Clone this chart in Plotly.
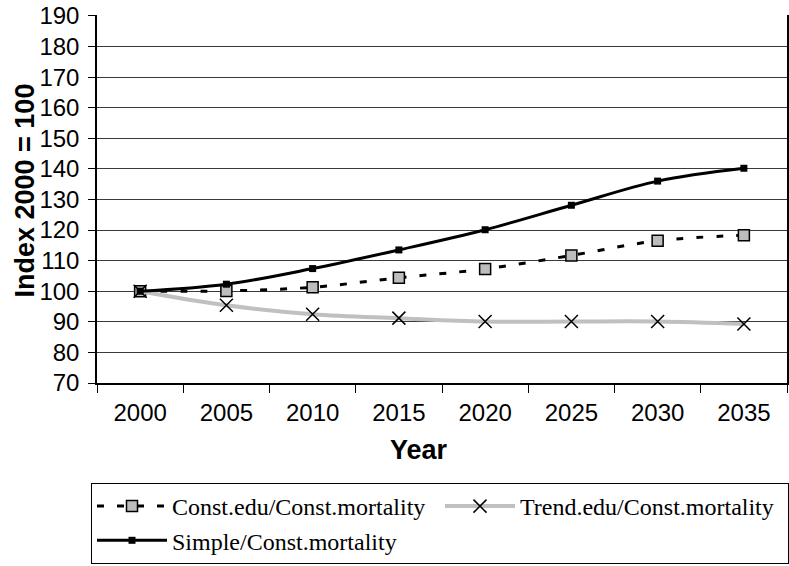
import plotly.graph_objects as go

years = ["2000", "2005", "2010", "2015", "2020", "2025", "2030", "2035"]
const_edu = [100, 100.1, 101.3, 104.4, 107.3, 111.7, 116.5, 118.3]
trend_edu = [100, 95.4, 92.5, 91.2, 90.1, 90.1, 90.1, 89.3]
simple = [100, 102.3, 107.4, 113.5, 120.1, 128.1, 136.0, 140.2]
y_ticks = list(range(70, 191, 10))

fig = go.Figure()
fig.add_trace(go.Scatter(
    x=years, y=const_edu, name="Const.edu/Const.mortality",
    mode="lines+markers", line=dict(color="black", width=3, dash="7px,13px", shape="spline"),
    marker=dict(symbol="square", size=11, color="#bdbdbd", line=dict(color="black", width=1.5)),
))
fig.add_trace(go.Scatter(
    x=years, y=trend_edu, name="Trend.edu/Const.mortality",
    mode="lines+markers", line=dict(color="#c0c0c0", width=4, shape="spline"),
    marker=dict(symbol="x-thin", size=13, color="black", line=dict(color="black", width=1.5)),
))
fig.add_trace(go.Scatter(
    x=years, y=simple, name="Simple/Const.mortality",
    mode="lines+markers", line=dict(color="black", width=3, shape="spline"),
    marker=dict(symbol="square", size=7, color="black"),
))

W, H = 789, 566
L, R, T, B = 97, 2, 15, 183
pw, ph = W - L - R, H - T - B

fig.update_layout(
    width=W, height=H,
    margin=dict(l=L, r=R, t=T, b=B),
    paper_bgcolor="white", plot_bgcolor="white",
    font=dict(family="Liberation Sans, Arial", color="black"),
    xaxis=dict(
        type="category", tickson="boundaries", ticks="outside", ticklen=8, tickcolor="black",
        showline=True, linecolor="black", linewidth=1.5, showgrid=False, automargin=False,
        tickfont=dict(size=24), range=[-0.5, 7.5], ticklabelstandoff=7,
    ),
    yaxis=dict(
        range=[70, 190.3], tickvals=y_ticks, ticks="outside", ticklen=7, tickcolor="black",
        showline=True, linecolor="black", linewidth=1.5, mirror=True, automargin=False,
        showgrid=True, gridcolor="#3a3a3a", gridwidth=1, zeroline=False,
        tickfont=dict(size=24), ticklabelstandoff=4, ticklabeloverflow="allow",
    ),
    annotations=[
        dict(text="<b>Year</b>", xref="paper", yref="paper",
             x=(418.5 - L) / pw, y=-67 / ph, xanchor="center", yanchor="middle",
             showarrow=False, font=dict(size=27)),
        dict(text="<b>Index 2000 = 100</b>", xref="paper", yref="paper", textangle=-90,
             x=(24 - L) / pw, y=1 - 175.5 / ph, xanchor="center", yanchor="middle",
             showarrow=False, font=dict(size=27)),
    ],
    showlegend=True,
    legend=dict(
        orientation="h", x=-6 / pw, xanchor="left", y=-100 / ph, yanchor="top",
        bordercolor="black", borderwidth=1, bgcolor="white",
        font=dict(family="Liberation Serif, Times New Roman", size=24),
        itemwidth=70, entrywidth=263, tracegroupgap=0,
    ),
)

fig.write_html(
    "out.html",
    config={"displayModeBar": False},
    post_script="document.body.style.margin='0';document.body.style.overflow='hidden';",
)
